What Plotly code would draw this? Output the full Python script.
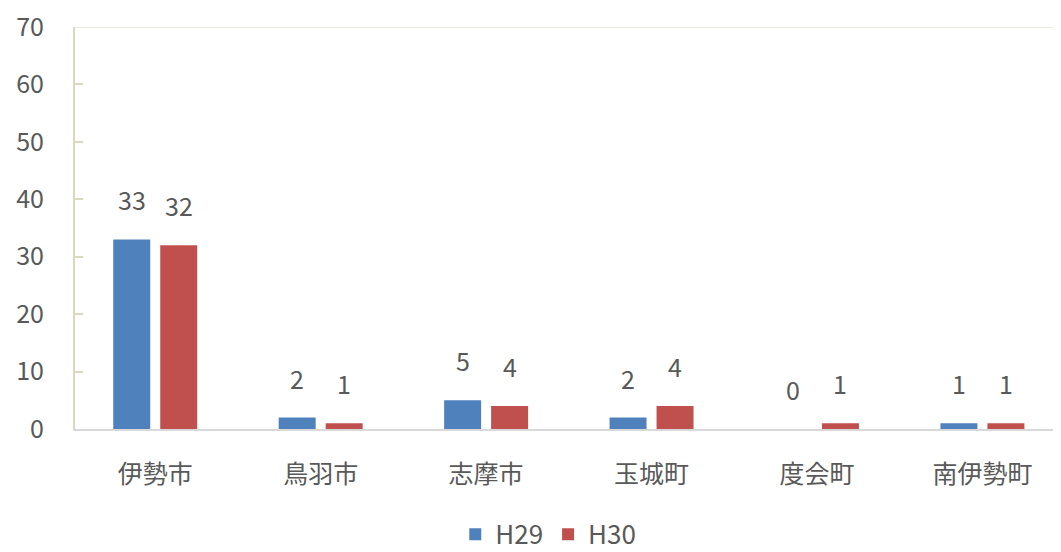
import plotly.graph_objects as go

categories = ["伊勢市", "鳥羽市", "志摩市", "玉城町", "度会町", "南伊勢町"]
h29 = [33, 2, 5, 2, 0, 1]
h30 = [32, 1, 4, 4, 1, 1]
series_names = ["H29", "H30"]
y_ticks = [0, 10, 20, 30, 40, 50, 60, 70]

BLUE = "#4f81bd"
RED = "#c0504d"
TXT = "#595959"
FONT = "Noto Sans CJK JP"

fig = go.Figure()
fig.add_trace(go.Bar(x=categories, y=h29, name=series_names[0], marker_color=BLUE,
                     marker_line_width=0))
fig.add_trace(go.Bar(x=categories, y=h30, name=series_names[1], marker_color=RED,
                     marker_line_width=0))

for vals, shift in ((h29, -23.5), (h30, 23.5)):
    for c, v in zip(categories, vals):
        fig.add_annotation(x=c, y=v, xref="x", yref="y", text=str(v), showarrow=False,
                           xshift=shift, yshift=40, yanchor="middle",
                           font=dict(family=FONT, size=25, color=TXT))

fig.add_shape(type="line", xref="paper", yref="y", x0=0, x1=1, y0=70, y1=70,
              line=dict(color="#ecebe0", width=2), layer="below")

# page body has an 8px default margin, so the figure is sized to end at the window edge
fig.update_layout(
    width=1053, height=544,
    margin=dict(l=67, r=0, t=19, b=123, autoexpand=False),
    paper_bgcolor="white", plot_bgcolor="white",
    barmode="group", bargap=0.432, bargroupgap=0.213,
    font=dict(family=FONT, size=25, color=TXT),
    showlegend=True,
    legend=dict(orientation="h", x=0.48, xanchor="center", y=-0.262, yanchor="middle",
                font=dict(family=FONT, size=26, color=TXT), itemwidth=30,
                traceorder="normal"),
    xaxis=dict(range=[-0.485, 5.475], showline=True, linecolor="#d9d9d9", linewidth=2,
               ticks="", tickfont=dict(family=FONT, size=25, color=TXT), automargin=False,
               ticklabelstandoff=22, showgrid=False, zeroline=False),
    yaxis=dict(range=[0, 70], tickvals=y_ticks, showline=True, linecolor="#dcd8c0",
               linewidth=2, ticks="inside", ticklen=8, tickcolor="#dcd8c0", tickwidth=2,
               tickfont=dict(family=FONT, size=25, color=TXT), ticklabelstandoff=24,
               ticklabeloverflow="allow", automargin=False, showgrid=False,
               zeroline=False),
)

fig.write_html("out.html")
